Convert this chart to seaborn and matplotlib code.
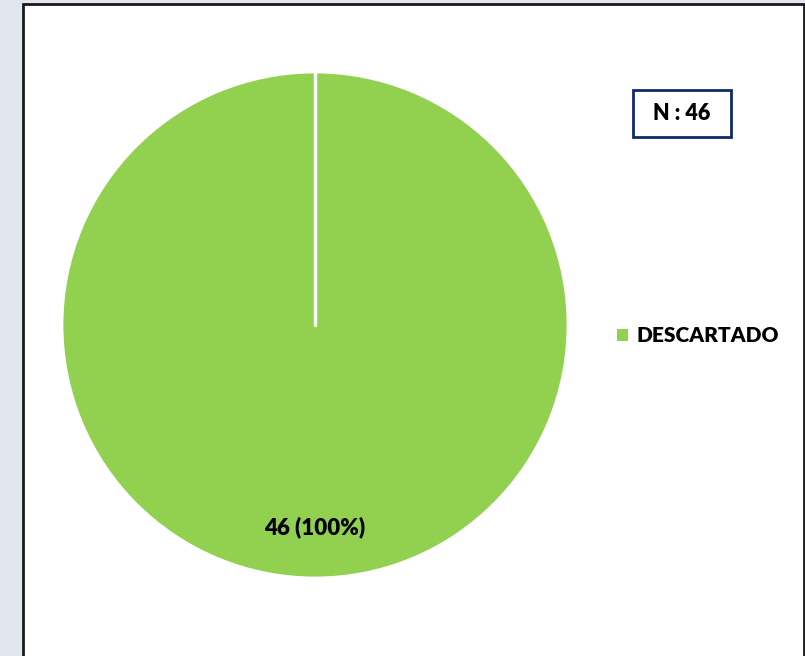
import matplotlib
matplotlib.use("Agg")
import matplotlib.pyplot as plt
from matplotlib.patches import Rectangle, Patch
import seaborn as sns

# datos
categorias = ["DESCARTADO"]
valores = [46]
colores = ["#92D050"]
total_n = sum(valores)

sns.set_theme(style="white")
plt.rcParams["font.family"] = ["Lato", "DejaVu Sans"]

W, H = 805, 656
fig = plt.figure(figsize=(W / 100, H / 100), dpi=100)
fig.patch.set_facecolor("#E1E6EF")

# area blanca del grafico con borde negro
fig.patches.append(Rectangle((23 / W, -0.01), 781 / W, 1 - 4.5 / H + 0.01,
                             transform=fig.transFigure, facecolor="white",
                             edgecolor="#1a1a1a", linewidth=2, zorder=-5))

ax = fig.add_axes([62 / W, 78 / H, 506 / W, 506 / H])
ax.set_facecolor("none")

wedges, textos, autotextos = ax.pie(
    valores, colors=colores, startangle=90, counterclock=False,
    autopct=lambda p: f"{round(p * total_n / 100)} ({p:.0f}%)",
    pctdistance=0.8, radius=1,
    wedgeprops=dict(edgecolor="white", linewidth=2),
    textprops=dict(fontsize=16, fontweight="heavy", color="black"))
# linea blanca del borde del sector (inicio a 90 grados)
ax.plot([0, 0], [0, 1], color="white", linewidth=2.5, zorder=5)
ax.set_xlim(-1, 1)
ax.set_ylim(-1, 1)
ax.set_aspect("equal")
ax.axis("off")

handles = [Patch(facecolor=c, edgecolor="none") for c in colores]
fig.legend(handles, categorias, loc="center left", bbox_to_anchor=(0.743, 0.488),
           frameon=False, handlelength=0.55, handleheight=0.55, handletextpad=0.4,
           prop=dict(size=15, weight="heavy"), labelcolor="black")

# recuadro del total
fig.patches.append(Rectangle((633 / W, 1 - 137 / H), 98 / W, 47 / H,
                             transform=fig.transFigure, facecolor="white",
                             edgecolor="#0F2A6B", linewidth=2, zorder=3))
fig.text(682 / W, 1 - 113.5 / H, f"N : {total_n}", ha="center", va="center",
         fontsize=15.5, fontweight="heavy", color="black", zorder=4)

fig.savefig("out.png", dpi=100, facecolor=fig.get_facecolor())
